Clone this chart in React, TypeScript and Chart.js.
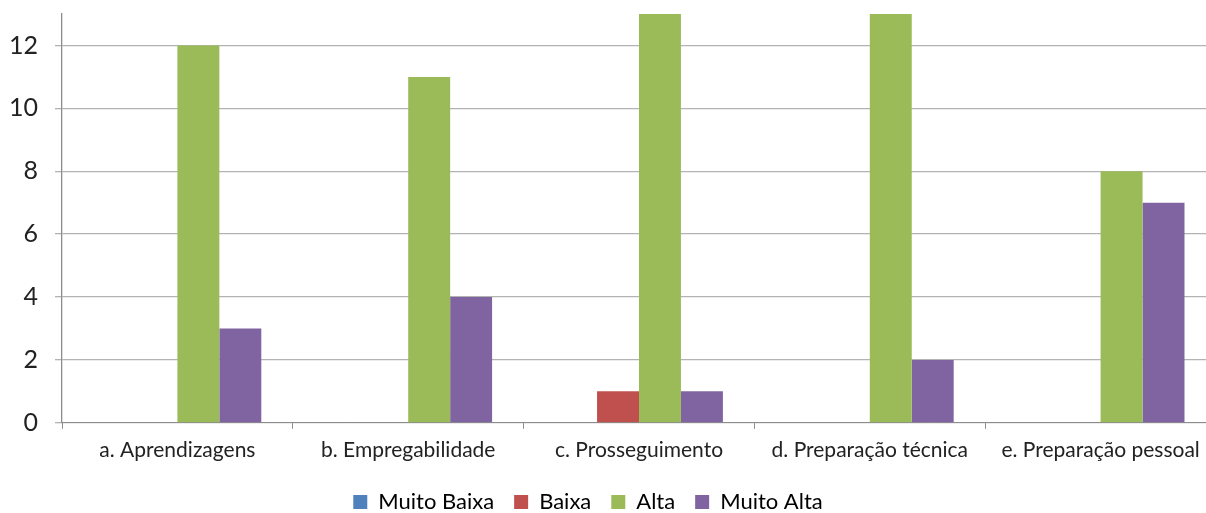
import React, { useEffect, useRef } from "react";
import { Chart, registerables } from "chart.js";

Chart.register(...registerables);

const categories = [
  "a. Aprendizagens",
  "b. Empregabilidade",
  "c. Prosseguimento",
  "d. Preparação técnica",
  "e. Preparação pessoal",
];
const muitoBaixa = [0, 0, 0, 0, 0];
const baixa = [0, 0, 1, 0, 0];
const alta = [12, 11, 13, 13, 8];
const muitoAlta = [3, 4, 1, 2, 7];
const yTicks = [0, 2, 4, 6, 8, 10, 12];

export default function App() {
  const ref = useRef<HTMLCanvasElement>(null);
  useEffect(() => {
    if (!ref.current) return;
    const font = "Lato, 'Open Sans', sans-serif";
    const legendShift = {
      id: "legendShift",
      afterLayout(chart: any) {
        if (chart.legend) {
          chart.legend.left -= 16;
          chart.legend.right -= 16;
        }
      },
    };
    const chart = new Chart(ref.current, {
      type: "bar",
      data: {
        labels: categories,
        datasets: [
          { label: "Muito Baixa", data: muitoBaixa, backgroundColor: "#4f81bd" },
          { label: "Baixa", data: baixa, backgroundColor: "#c0504d" },
          { label: "Alta", data: alta, backgroundColor: "#9bbb59" },
          { label: "Muito Alta", data: muitoAlta, backgroundColor: "#8064a2" },
        ],
      },
      plugins: [legendShift],
      options: {
        animation: false,
        responsive: false,
        maintainAspectRatio: false,
        layout: { padding: { top: 0, left: -8, right: 0, bottom: 0 } },
        datasets: { bar: { categoryPercentage: 0.727, barPercentage: 1 } },
        plugins: {
          tooltip: { enabled: false },
          legend: {
            position: "bottom",
            labels: {
              boxWidth: 14,
              boxHeight: 14,
              padding: 20,
              color: "#000",
              font: { family: font, size: 22 },
            },
          },
        },
        scales: {
          x: {
            grid: {
              display: true,
              drawOnChartArea: false,
              drawTicks: true,
              tickLength: 6,
              color: "#8c8c8c",
              offset: true,
            },
            border: { display: true, color: "#8c8c8c", width: 1 },
            ticks: {
              color: "#222",
              font: { family: font, size: 21 },
              padding: 8.5,
              maxRotation: 0,
              autoSkip: false,
            },
          },
          y: {
            min: 0,
            max: 13,
            afterBuildTicks: (axis: any) => {
              axis.ticks = yTicks.map((v) => ({ value: v }));
            },
            grid: {
              color: "#b3b3b3",
              lineWidth: 1.3,
              drawTicks: true,
              tickLength: 7,
            },
            border: { display: true, color: "#8c8c8c", width: 1.3 },
            ticks: {
              color: "#222",
              font: { family: font, size: 25 },
              padding: 17,
            },
          },
        },
      },
    });
    return () => chart.destroy();
  }, []);
  return (
    <div style={{ position: "fixed", left: 0, top: -18, width: 1216, height: 541, background: "#fff" }}>
      <canvas ref={ref} width={1216} height={541} style={{ width: 1216, height: 541 }} />
    </div>
  );
}
